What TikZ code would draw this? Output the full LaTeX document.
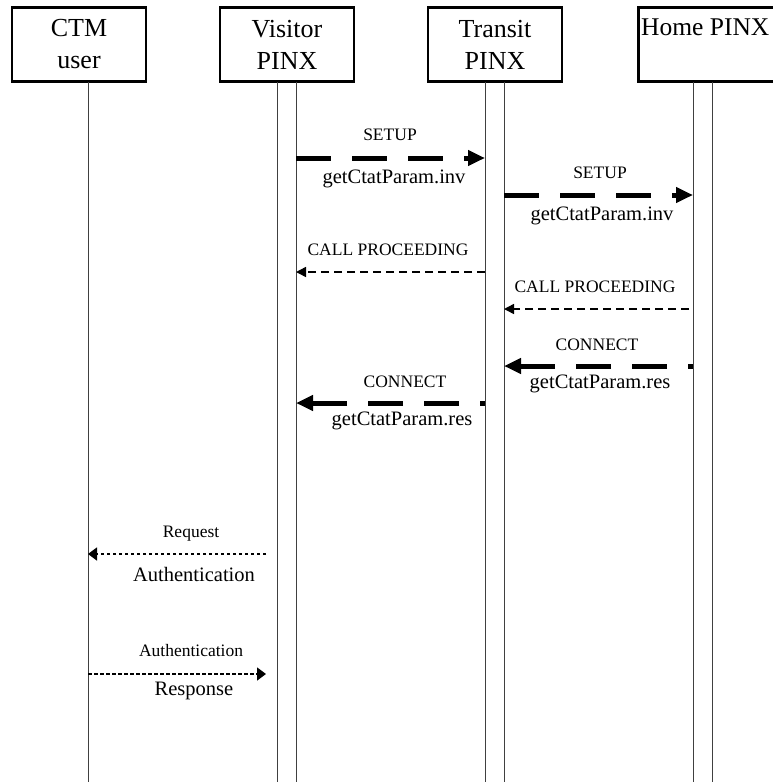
\documentclass[tikz,border=0pt]{standalone}
\usepackage{fontspec}
\setmainfont{Liberation Serif}
\usetikzlibrary{arrows.meta, calc, positioning}

\tikzset{
    entity/.style={draw, line width=2.5pt, inner sep=0pt, minimum width=134pt,
        minimum height=74pt, align=center, font=\fontsize{26}{32}\selectfont},
    lifeline/.style={line width=0.9pt, black!75},
    bigmsg/.style={line width=5pt, dash pattern=on 35pt off 21pt,
        -{Triangle[length=17pt, width=15pt]}},
    bigret/.style={bigmsg, dash phase=30pt},
    callmsg/.style={line width=1.5pt, dash pattern=on 8pt off 5pt,
        -{Triangle[length=10pt, width=10pt]}},
    authmsg/.style={line width=1.5pt, dash pattern=on 3.5pt off 2.5pt,
        -{Triangle[length=9pt, width=13pt]}},
    smalllbl/.style={font=\fontsize{17.5}{21}\selectfont, inner sep=0pt, anchor=base},
    biglbl/.style={font=\fontsize{20.5}{24}\selectfont, inner sep=0pt, anchor=base},
}

\begin{document}
\begin{tikzpicture}[x=1pt, y=-1pt]
    \def\boxMid{44.5}
    \def\lineTop{82}
    \def\lineBottom{782}

    \useasboundingbox (0, 0) rectangle (772, 782);

    % Draw entity boxes
    \node[entity] (ctm) at (79, \boxMid) {CTM\\user};
    \node[entity] (visitor) at (287, \boxMid) {Visitor\\PINX};
    \node[entity] (transit) at (495, \boxMid) {Transit\\PINX};
    \node[entity, minimum width=170pt, anchor=west] (home) at (637, \boxMid) {};
    \node[anchor=base west, inner sep=0pt, font=\fontsize{25.5}{32}\selectfont]
        (homelbl) at (641, 35) {Home PINX};

    % Draw lifelines
    \foreach \name/\x in {ctm1/88, vis1/277, vis2/296, tra1/485, tra2/504, hom1/693, hom2/712} {
        \coordinate (\name) at (\x, \lineTop);
        \draw[lifeline] (\name) -- (\x, \lineBottom);
    }
    \coordinate (vgap) at (266, \lineTop);

    % Draw SETUP / CONNECT messages
    \draw[bigmsg] (vis2 |- 0,158) -- (tra1 |- 0,158);
    \draw[bigmsg] (tra2 |- 0,195) -- (hom1 |- 0,195);
    \draw[bigret] (hom1 |- 0,366) -- (tra2 |- 0,366);
    \draw[bigret] (tra1 |- 0,403) -- (vis2 |- 0,403);

    % Draw CALL PROCEEDING messages
    \draw[callmsg] (tra1 |- 0,272) -- (vis2 |- 0,272);
    \draw[callmsg] ([xshift=-4pt]hom1 |- 0,309) -- (tra2 |- 0,309);

    % Draw authentication messages
    \draw[authmsg] (vgap |- 0,554) -- (ctm1 |- 0,554);
    \draw[authmsg] (ctm1 |- 0,674) -- (vgap |- 0,674);

    % Label messages
    \node[smalllbl] (setupA) at (390, 140) {SETUP};
    \node[biglbl] (invA) at (394, 183) {getCtatParam.inv};
    \node[smalllbl] (setupB) at (600, 178) {SETUP};
    \node[biglbl] (invB) at (602, 220) {getCtatParam.inv};
    \node[smalllbl] (procA) at (388, 255) {CALL PROCEEDING};
    \node[smalllbl] (procB) at (595, 292) {CALL PROCEEDING};
    \node[smalllbl] (connB) at (597, 350) {CONNECT};
    \node[biglbl] (resB) at (600, 388) {getCtatParam.res};
    \node[smalllbl] (connA) at (405, 387) {CONNECT};
    \node[biglbl] (resA) at (402, 425) {getCtatParam.res};
    \node[smalllbl] (req) at (191, 537) {Request};
    \node[biglbl] (authA) at (194, 581) {Authentication};
    \node[smalllbl] (authB) at (191, 656) {Authentication};
    \node[biglbl] (resp) at (194, 695) {Response};
\end{tikzpicture}
\end{document}
